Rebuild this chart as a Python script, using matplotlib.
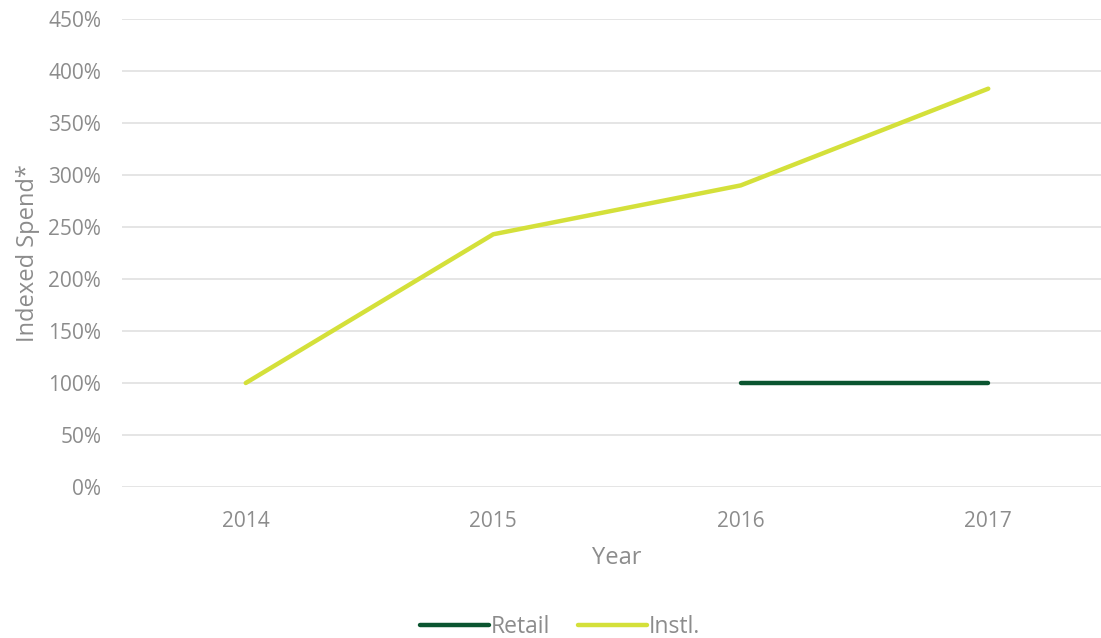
import numpy as np
import matplotlib
matplotlib.use("Agg")
import matplotlib.pyplot as plt
from matplotlib.ticker import FuncFormatter

years = ["2014", "2015", "2016", "2017"]
retail = [np.nan, np.nan, 100, 100]
instl = [100, 243, 290, 383]

GRAY = "#8c8c8c"
plt.rcParams["font.family"] = ["Open Sans", "DejaVu Sans"]

fig = plt.figure(figsize=(11.01, 6.38), dpi=100)
ax = fig.add_axes([122 / 1101, 151 / 638, 990 / 1101, 468 / 638])

x = np.arange(len(years))
ax.plot(x, retail, color="#0b5530", lw=3.2, solid_capstyle="round", label="Retail")
ax.plot(x, instl, color="#d4e03a", lw=3.2, solid_capstyle="round", label="Instl.")

ax.set_xlim(-0.5, 3.5)
ax.set_ylim(0, 450)
ax.set_yticks(np.arange(0, 451, 50))
ax.yaxis.set_major_formatter(FuncFormatter(lambda v, p: f"{v:.0f}%"))
ax.set_xticks(x)
ax.set_xticklabels(years)
ax.grid(axis="y", color="#e3e3e3", lw=1.3)
ax.set_axisbelow(True)
for s in ax.spines.values():
    s.set_visible(False)
ax.tick_params(length=0, colors=GRAY, labelsize=15)
ax.tick_params(axis="x", pad=17)
ax.tick_params(axis="y", pad=15)
ax.set_xlabel("Year", color=GRAY, fontsize=17, labelpad=10)
ax.set_ylabel("Indexed Spend*", color=GRAY, fontsize=17, labelpad=6)

leg = fig.legend(loc="center", bbox_to_anchor=(560 / 1101, 11 / 638), ncol=2,
                 frameon=False, fontsize=16.5, handlelength=3, handletextpad=0.1,
                 columnspacing=1.2)
for t in leg.get_texts():
    t.set_color(GRAY)

fig.savefig("out.png", dpi=100)
